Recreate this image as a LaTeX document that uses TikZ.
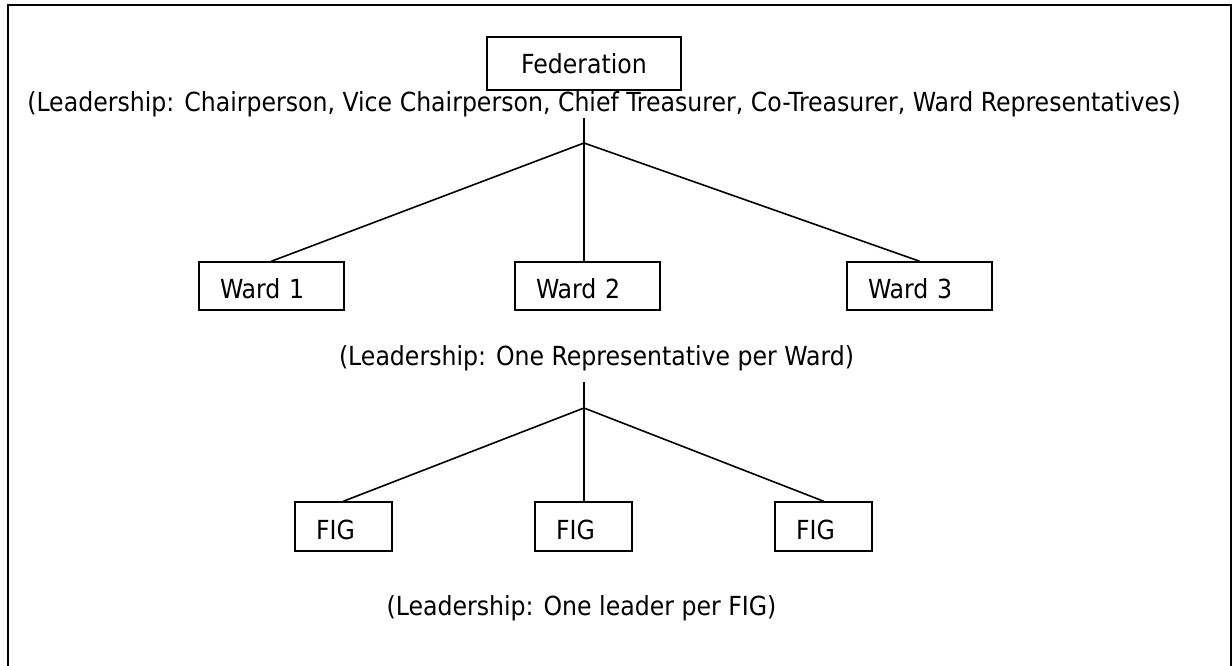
\documentclass[tikz,border=0pt]{standalone}
\usepackage{fontspec}
\setmainfont{DejaVu Sans Condensed}
\usepackage{tikz}

\begin{document}
\begin{tikzpicture}[x=0.75pt,y=-0.75pt]
  \tikzstyle{every node}+=[inner sep=0pt, font=\fontsize{19.7}{23}\selectfont]
  \tikzstyle{link}=[black, line width=1.2pt]
  \tikzstyle{topbox}=[draw, line width=1.2pt, minimum width=145.5pt, minimum height=39.75pt]
  \tikzstyle{unitbox}=[draw, line width=1.2pt, align=left, inner xsep=15.75pt, text height=19.5pt]
  \tikzstyle{wardbox}=[unitbox, text width=77.25pt, minimum height=36pt]
  \tikzstyle{figbox}=[unitbox, text width=41.25pt, minimum height=36.75pt]
  \tikzstyle{leadtext}=[anchor=base]
  \useasboundingbox (0,0) rectangle (1232,666);
  \draw [line width=1.5pt] (7.5,672) -- (7.5,5.5) -- (1230.5,5.5) -- (1230.5,672);
  % federation level
  \node [topbox] (fed) at (584,63.5) {Federation};
  \node [leadtext] (fedlead) at (604,112) {(Leadership: Chairperson, Vice Chairperson, Chief Treasurer, Co-Treasurer, Ward Representatives)};
  \coordinate (fedstem) at (584,118);
  \coordinate (fedjoin) at (584,143);
  % wards
  \node [wardbox] (ward1) at (271.5,286) {Ward 1};
  \node [wardbox] (ward2) at (587.5,286) {Ward 2};
  \node [wardbox] (ward3) at (919.5,286) {Ward 3};
  \draw [link] (fedstem) -- (fedjoin);
  \draw [link] (fedjoin) -- (ward1.north);
  \draw [link] (fedjoin) -- (ward2.north -| fedjoin);
  \draw [link] (fedjoin) -- (ward3.north);
  \node [leadtext] (wardlead) at (596.5,366) {(Leadership: One Representative per Ward)};
  \coordinate (wardstem) at (584,382);
  \coordinate (wardjoin) at (584,408);
  % FIGs
  \node [figbox] (fig1) at (343.5,526.5) {FIG};
  \node [figbox] (fig2) at (583.5,526.5) {FIG};
  \node [figbox] (fig3) at (823.5,526.5) {FIG};
  \draw [link] (wardstem) -- (wardjoin);
  \draw [link] (wardjoin) -- (fig1.north);
  \draw [link] (wardjoin) -- (fig2.north -| wardjoin);
  \draw [link] (wardjoin) -- (fig3.north);
  \node [leadtext] (figlead) at (581.5,615) {(Leadership: One leader per FIG)};
\end{tikzpicture}
\end{document}
